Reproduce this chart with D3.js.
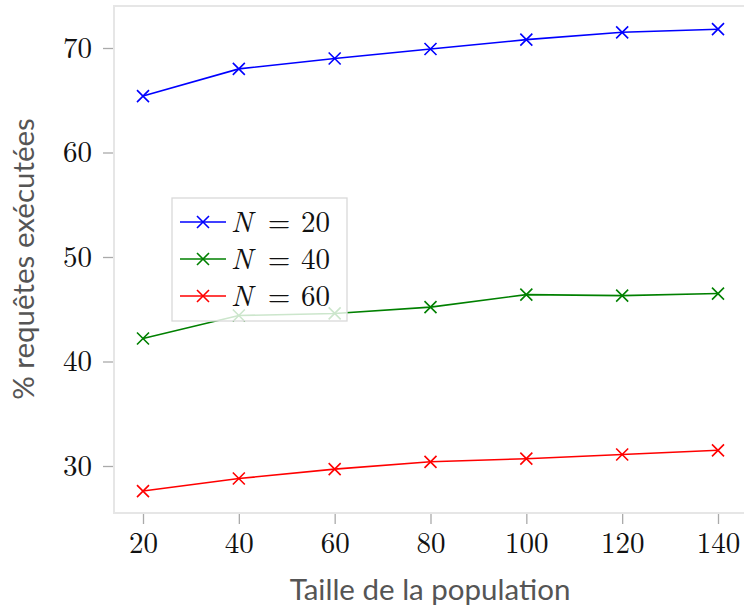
<!DOCTYPE html>
<html>
<head>
<meta charset="utf-8">
<script src="https://cdn.jsdelivr.net/npm/d3@7"></script>
<style>
  html, body { margin: 0; padding: 0; background: #fff; }
  svg { display: block; }
</style>
</head>
<body>
<svg id="chart" width="744" height="609"></svg>
<script>
// Population sizes on the x axis
const populations = [20, 40, 60, 80, 100, 120, 140];
// Share of executed requests (%) for each value of N
const seriesN20 = [65.4, 68.0, 69.0, 69.9, 70.8, 71.5, 71.8];
const seriesN40 = [42.2, 44.4, 44.6, 45.2, 46.4, 46.3, 46.5];
const seriesN60 = [27.6, 28.8, 29.7, 30.4, 30.7, 31.1, 31.5];
const seriesLabels = ["20", "40", "60"];
const seriesColors = ["#0000ff", "#008000", "#ff0000"];
const yTicks = [30, 40, 50, 60, 70];
const xTicks = [20, 40, 60, 80, 100, 120, 140];

const svg = d3.select("#chart");
const plot = { left: 114, right: 746, top: 6, bottom: 513 };

const x = d3.scaleLinear().domain([20, 140]).range([143, 718]);
const y = d3.scaleLinear().domain([30, 70]).range([466, 48]);

const tickFont = "'Latin Modern Roman', 'CMU Serif', 'DejaVu Serif', serif";

// Plot frame
svg.append("rect")
  .attr("x", plot.left).attr("y", plot.top)
  .attr("width", plot.right - plot.left).attr("height", plot.bottom - plot.top)
  .attr("fill", "none").attr("stroke", "#e6e6e6").attr("stroke-width", 2);

// Y axis
const yAxis = d3.axisLeft(y).tickValues(yTicks).tickSize(10).tickPadding(11);
const gy = svg.append("g").attr("transform", `translate(${plot.left - 1},0)`).call(yAxis);
gy.select(".domain").remove();
gy.selectAll(".tick line").attr("stroke", "#aaaaaa").attr("stroke-width", 1.3);
gy.selectAll(".tick text")
  .attr("fill", "#111").attr("font-family", tickFont).attr("font-size", 29);

// X axis
const xAxis = d3.axisBottom(x).tickValues(xTicks).tickSize(10).tickPadding(8);
const gx = svg.append("g").attr("transform", `translate(0,${plot.bottom + 1})`).call(xAxis);
gx.select(".domain").remove();
gx.selectAll(".tick line").attr("stroke", "#aaaaaa").attr("stroke-width", 1.3);
gx.selectAll(".tick text")
  .attr("fill", "#111").attr("font-family", tickFont).attr("font-size", 29);

// Axis titles
svg.append("text")
  .attr("x", 430).attr("y", 600)
  .attr("text-anchor", "middle")
  .attr("font-family", "Lato, sans-serif").attr("font-size", 29.5)
  .attr("fill", "#555").text("Taille de la population");

svg.append("text")
  .attr("transform", "translate(34,259) rotate(-90)")
  .attr("text-anchor", "middle")
  .attr("font-family", "Lato, sans-serif").attr("font-size", 29.5)
  .attr("fill", "#555").text("% requêtes exécutées");

// Series
const allSeries = [seriesN20, seriesN40, seriesN60];
const line = d3.line().x((d, i) => x(populations[i])).y(d => y(d));
const crossPath = s => `M${-s},${-s}L${s},${s}M${-s},${s}L${s},${-s}`;

allSeries.forEach((vals, k) => {
  const g = svg.append("g");
  g.append("path").datum(vals)
    .attr("d", line).attr("fill", "none")
    .attr("stroke", seriesColors[k]).attr("stroke-width", 1.6);
  g.selectAll("path.mk").data(vals).enter().append("path")
    .attr("class", "mk")
    .attr("transform", (d, i) => `translate(${x(populations[i])},${y(d)})`)
    .attr("d", crossPath(6))
    .attr("stroke", seriesColors[k]).attr("stroke-width", 1.6).attr("fill", "none");
});

// Legend
const lg = svg.append("g").attr("transform", "translate(172,198)");
lg.append("rect")
  .attr("width", 175).attr("height", 123)
  .attr("fill", "rgba(255,255,255,0.8)").attr("stroke", "#d9d9d9").attr("stroke-width", 1.3);
seriesLabels.forEach((lab, k) => {
  const cy = 24 + k * 37;
  const by = cy + 10;
  lg.append("line").attr("x1", 8).attr("x2", 54).attr("y1", cy).attr("y2", cy)
    .attr("stroke", seriesColors[k]).attr("stroke-width", 1.6);
  lg.append("path").attr("transform", `translate(31,${cy})`).attr("d", crossPath(6))
    .attr("stroke", seriesColors[k]).attr("stroke-width", 1.6).attr("fill", "none");
  lg.append("text").attr("x", 59).attr("y", by)
    .attr("font-family", tickFont).attr("font-size", 29).attr("font-style", "italic")
    .attr("fill", "#111").text("N");
  lg.append("text").attr("x", 107).attr("y", by).attr("text-anchor", "middle")
    .attr("font-family", tickFont).attr("font-size", 29)
    .attr("fill", "#111").text("=");
  lg.append("text").attr("x", 129).attr("y", by)
    .attr("font-family", tickFont).attr("font-size", 29)
    .attr("fill", "#111").text(lab);
});
</script>
</body>
</html>
